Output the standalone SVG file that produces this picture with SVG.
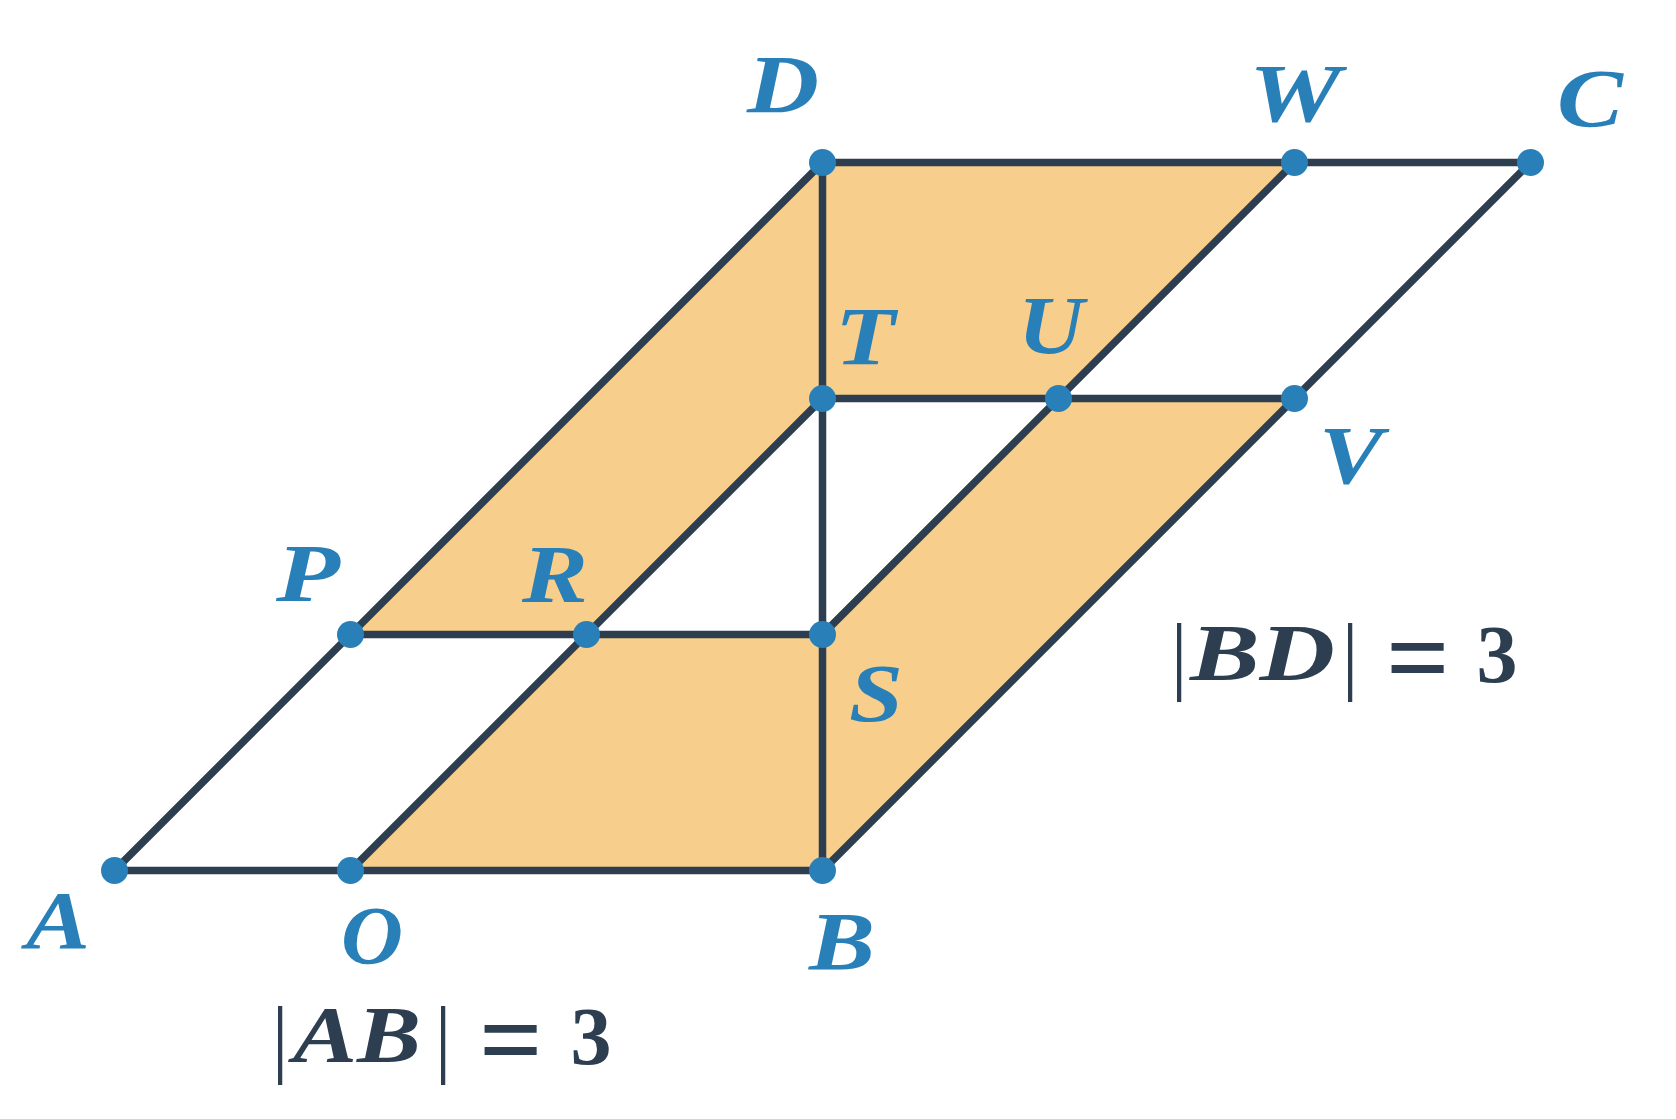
<svg xmlns="http://www.w3.org/2000/svg" width="1676" height="1119" viewBox="0 0 1676 1119">
<style>
.fill{fill:#f7ce8b;stroke:none}
.ln{stroke:#2c3e50;stroke-width:7.5;stroke-linecap:round;fill:none}
.dot{fill:#2980b9}
.lbl{font-family:"Liberation Serif","Times New Roman",serif;font-style:italic;font-weight:bold;font-size:82px;fill:#2980b9;text-anchor:middle}
.fm{font-family:"Liberation Serif","Times New Roman",serif;fill:#2c3e50}
.it{font-style:italic;font-weight:bold;font-size:80px}
.bar{font-size:86px;font-weight:normal}
.eq{font-size:112px;font-weight:bold}
.num{font-size:82px;font-weight:bold}
</style>
<rect width="1676" height="1119" fill="#ffffff"/>
<g id="regions">
<polygon class="fill" points="822.5,162.5 1294.5,162.5 1058.5,398.5 822.5,398.5 586.5,634.5 350.5,634.5"/>
<polygon class="fill" points="350.5,870.5 586.5,634.5 822.5,634.5 1058.5,398.5 1294.5,398.5 822.5,870.5"/>
</g>
<g id="connectors">
<line class="ln" x1="114.5" y1="870.5" x2="822.5" y2="870.5"/>
<line class="ln" x1="822.5" y1="162.5" x2="1530.5" y2="162.5"/>
<line class="ln" x1="114.5" y1="870.5" x2="822.5" y2="162.5"/>
<line class="ln" x1="822.5" y1="870.5" x2="1530.5" y2="162.5"/>
<line class="ln" x1="350.5" y1="634.5" x2="822.5" y2="634.5"/>
<line class="ln" x1="822.5" y1="398.5" x2="1294.5" y2="398.5"/>
<line class="ln" x1="822.5" y1="162.5" x2="822.5" y2="870.5"/>
<line class="ln" x1="350.5" y1="870.5" x2="822.5" y2="398.5"/>
<line class="ln" x1="822.5" y1="634.5" x2="1294.5" y2="162.5"/>
</g>
<g id="A"><circle class="dot" cx="114.5" cy="870.5" r="13.5"/><text class="lbl" x="58" y="948" textLength="64" lengthAdjust="spacingAndGlyphs">A</text></g>
<g id="O"><circle class="dot" cx="350.5" cy="870.5" r="13.5"/><text class="lbl" x="372" y="963" textLength="62" lengthAdjust="spacingAndGlyphs">O</text></g>
<g id="B"><circle class="dot" cx="822.5" cy="870.5" r="13.5"/><text class="lbl" x="842" y="969" textLength="66" lengthAdjust="spacingAndGlyphs">B</text></g>
<g id="P"><circle class="dot" cx="350.5" cy="634.5" r="13.5"/><text class="lbl" x="308" y="601" textLength="64" lengthAdjust="spacingAndGlyphs">P</text></g>
<g id="R"><circle class="dot" cx="586.5" cy="634.5" r="13.5"/><text class="lbl" x="555" y="602" textLength="66" lengthAdjust="spacingAndGlyphs">R</text></g>
<g id="S"><circle class="dot" cx="822.5" cy="634.5" r="13.5"/><text class="lbl" x="876" y="721" textLength="54" lengthAdjust="spacingAndGlyphs">S</text></g>
<g id="T"><circle class="dot" cx="822.5" cy="398.5" r="13.5"/><text class="lbl" x="865" y="364" textLength="60" lengthAdjust="spacingAndGlyphs">T</text></g>
<g id="U"><circle class="dot" cx="1058.5" cy="398.5" r="13.5"/><text class="lbl" x="1051" y="353" textLength="66" lengthAdjust="spacingAndGlyphs">U</text></g>
<g id="V"><circle class="dot" cx="1294.5" cy="398.5" r="13.5"/><text class="lbl" x="1351" y="483" textLength="64" lengthAdjust="spacingAndGlyphs">V</text></g>
<g id="D"><circle class="dot" cx="822.5" cy="162.5" r="13.5"/><text class="lbl" x="783" y="112" textLength="72" lengthAdjust="spacingAndGlyphs">D</text></g>
<g id="W"><circle class="dot" cx="1294.5" cy="162.5" r="13.5"/><text class="lbl" x="1295" y="121" textLength="92" lengthAdjust="spacingAndGlyphs">W</text></g>
<g id="C"><circle class="dot" cx="1530.5" cy="162.5" r="13.5"/><text class="lbl" x="1590" y="126" textLength="66" lengthAdjust="spacingAndGlyphs">C</text></g>
<g id="AB-eq">
<text class="fm bar" x="280" y="1066" text-anchor="middle">|</text>
<text class="fm it" x="293" y="1062" textLength="128" lengthAdjust="spacingAndGlyphs">AB</text>
<text class="fm bar" x="443" y="1066" text-anchor="middle">|</text>
<text class="fm eq" x="511" y="1077" text-anchor="middle">=</text>
<text class="fm num" x="591" y="1064" text-anchor="middle">3</text>
</g>
<g id="BD-eq">
<text class="fm bar" x="1179" y="683" text-anchor="middle">|</text>
<text class="fm it" x="1190" y="680" textLength="145" lengthAdjust="spacingAndGlyphs">BD</text>
<text class="fm bar" x="1350" y="683" text-anchor="middle">|</text>
<text class="fm eq" x="1418" y="695" text-anchor="middle">=</text>
<text class="fm num" x="1497" y="682" text-anchor="middle">3</text>
</g>
</svg>
